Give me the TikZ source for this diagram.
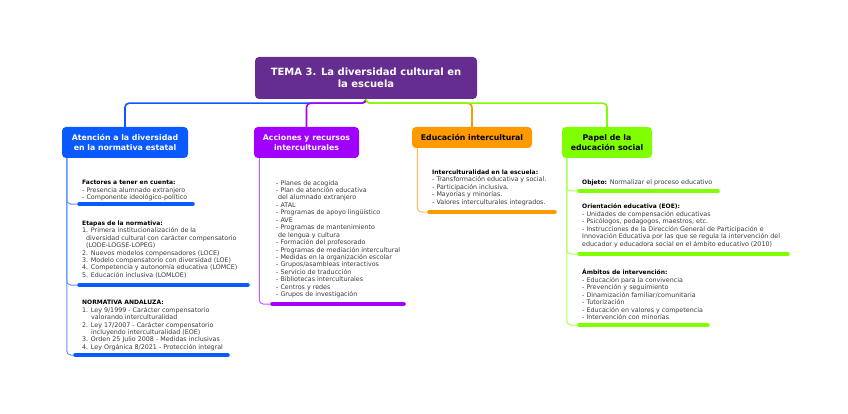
\documentclass[tikz,border=0pt]{standalone}
\usepackage{fontspec}
\setmainfont{DejaVu Sans}
\usetikzlibrary{positioning}
\definecolor{mroot}{HTML}{662D91}
\definecolor{mblue}{HTML}{0A5AFF}
\definecolor{mpurple}{HTML}{A100FF}
\definecolor{morange}{HTML}{FF9900}
\definecolor{mgreen}{HTML}{80FF00}
\definecolor{mtext}{HTML}{3A3A3A}
\newcommand{\hd}[1]{{\fontsize{6}{7.35}\bfseries\color{black}#1}}
\tikzset{
  topic/.style={fill=mroot, text=white, rounded corners=4pt, align=center, minimum width=222pt, minimum height=42pt, inner sep=0pt, font=\fontsize{10}{12}\bfseries\selectfont},
  branch/.style={fill=#1, rounded corners=4pt, align=center, inner sep=0pt, font=\fontsize{7.8}{10}\bfseries\selectfont},
  notes/.style={anchor=north west, inner sep=0pt, align=left, text=mtext, font=\fontsize{6.35}{7.45}\selectfont},
  link/.style={draw=#1, line width=1.6pt, rounded corners=4pt},
  spine/.style={draw=#1!65, line width=1pt, rounded corners=4pt},
  bar/.style={draw=#1, line width=3.5pt, line cap=round},
}

\begin{document}
\begin{tikzpicture}[x=1pt, y=-1pt]
  \useasboundingbox (0,0) rectangle (848,414);
  % central topic
  \node[topic] (root) at (366,78) {TEMA 3. La diversidad cultural en\\la escuela};
  % main branches
  \node[branch=mblue, text=white, minimum width=126pt, minimum height=31pt] (atn) at (125,142.5) {Atención a la diversidad\\en la normativa estatal};
  \node[branch=mpurple, text=white, minimum width=105pt, minimum height=31pt] (acc) at (306.5,142.5) {Acciones y recursos\\interculturales};
  \node[branch=morange, text=black, minimum width=120pt, minimum height=21pt] (edu) at (472,137.5) {Educación intercultural};
  \node[branch=mgreen, text=black, minimum width=90pt, minimum height=31pt] (pap) at (607,142.5) {Papel de la\\educación social};
  \draw[link=mblue] (root.south) -- ++(0,4) -| (atn.north);
  \draw[link=mpurple] (root.south) -- ++(0,4) -| (acc.north);
  \draw[link=morange] (root.south) -- ++(0,4) -| (edu.north);
  \draw[link=mgreen] (root.south) -- ++(0,4) -| (pap.north);
  % blue notes
  \node[notes] (fac) at (82,180) {\hd{Factores a tener en cuenta:}\\- Presencia alumnado extranjero\\- Componente ideológico-político};
  \node[notes] (eta) at (82,220.5) {\hd{Etapas de la normativa:}\\1. Primera institucionalización de la\\\hspace*{4pt}diversidad cultural con carácter compensatorio\\\hspace*{4pt}(LODE-LOGSE-LOPEG)\\2. Nuevos modelos compensadores (LOCE)\\3. Modelo compensatorio con diversidad (LOE)\\4. Competencia y autonomía educativa (LOMCE)\\5. Educación inclusiva (LOMLOE)};
  \node[notes] (nor) at (82,300) {\hd{NORMATIVA ANDALUZA:}\\1. Ley 9/1999 - Carácter compensatorio\\\hspace*{9pt}valorando interculturalidad\\2. Ley 17/2007 - Carácter compensatorio\\\hspace*{9pt}incluyendo interculturalidad (EOE)\\3. Orden 25 Julio 2008 - Medidas inclusivas\\4. Ley Orgánica 8/2021 - Protección integral};
  \coordinate (facL) at (79,204);  \coordinate (facR) at (193,204);
  \coordinate (etaL) at (79,285);  \coordinate (etaR) at (248,285);
  \coordinate (norL) at (75,355);  \coordinate (norR) at (228,355);
  \draw[spine=mblue] ([xshift=5pt]atn.south west) |- (facL);
  \draw[spine=mblue] ([xshift=5pt]atn.south west) |- (etaL);
  \draw[spine=mblue] ([xshift=5pt]atn.south west) |- (norL);
  \draw[bar=mblue] (facL) -- (facR);
  \draw[bar=mblue] (etaL) -- (etaR);
  \draw[bar=mblue] (norL) -- (norR);
  % purple notes
  \node[notes] (rec) at (276,180) {- Planes de acogida\\- Plan de atención educativa\\\hspace*{2pt}del alumnado extranjero\\- ATAL\\- Programas de apoyo lingüístico\\- AVE\\- Programas de mantenimiento\\\hspace*{2pt}de lengua y cultura\\- Formación del profesorado\\- Programas de mediación intercultural\\- Medidas en la organización escolar\\- Grupos/asambleas interactivos\\- Servicio de traducción\\- Bibliotecas interculturales\\- Centros y redes\\- Grupos de investigación};
  \coordinate (recL) at (272,304); \coordinate (recR) at (404,304);
  \draw[spine=mpurple] ([xshift=5.5pt]acc.south west) |- (recL);
  \draw[bar=mpurple] (recL) -- (recR);
  % orange notes
  \node[notes] (esc) at (432,169.5) {\hd{Interculturalidad en la escuela:}\\- Transformación educativa y social.\\- Participación inclusiva.\\- Mayorías y minorías.\\- Valores interculturales integrados.};
  \coordinate (escL) at (429,212); \coordinate (escR) at (555,212);
  \draw[spine=morange] ([xshift=5.5pt]edu.south west) |- (escL);
  \draw[bar=morange] (escL) -- (escR);
  % green notes
  \node[notes] (obj) at (582,179.5) {\hd{Objeto:} Normalizar el proceso educativo};
  \node[notes] (ori) at (582,204) {\hd{Orientación educativa (EOE):}\\- Unidades de compensación educativas\\- Psicólogos, pedagogos, maestros, etc.\\- Instrucciones de la Dirección General de Participación e\\Innovación Educativa por las que se regula la intervención del\\educador y educadora social en el ámbito educativo (2010)};
  \node[notes] (amb) at (582,269) {\hd{Ámbitos de intervención:}\\- Educación para la convivencia\\- Prevención y seguimiento\\- Dinamización familiar/comunitaria\\- Tutorización\\- Educación en valores y competencia\\- Intervención con minorías};
  \coordinate (objL) at (579,191); \coordinate (objR) at (718,191);
  \coordinate (oriL) at (579,254); \coordinate (oriR) at (788,254);
  \coordinate (ambL) at (579,325); \coordinate (ambR) at (708,325);
  \draw[spine=mgreen] ([xshift=5pt]pap.south west) |- (objL);
  \draw[spine=mgreen] ([xshift=5pt]pap.south west) |- (oriL);
  \draw[spine=mgreen] ([xshift=5pt]pap.south west) |- (ambL);
  \draw[bar=mgreen] (objL) -- (objR);
  \draw[bar=mgreen] (oriL) -- (oriR);
  \draw[bar=mgreen] (ambL) -- (ambR);
\end{tikzpicture}
\end{document}
